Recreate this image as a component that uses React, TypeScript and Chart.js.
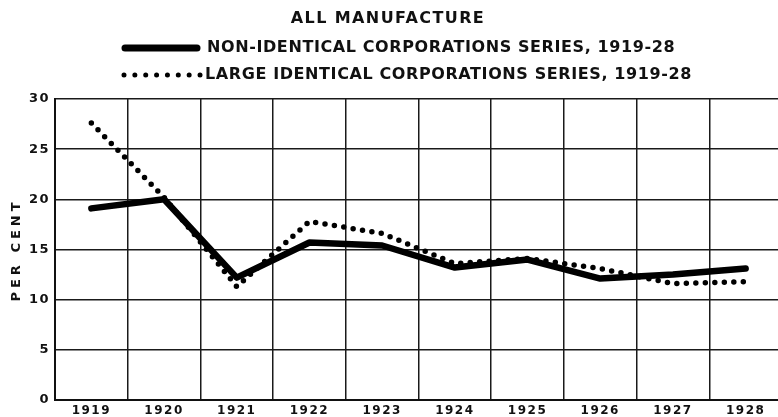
import { useEffect, useRef } from "react";
import { Chart, registerables } from "chart.js";

Chart.register(...registerables);

const TITLE = "ALL MANUFACTURE";
const Y_TITLE = "PER CENT";
const YEARS = ["1919", "1920", "1921", "1922", "1923", "1924", "1925", "1926", "1927", "1928"];
const SERIES_LABELS = [
  "NON-IDENTICAL CORPORATIONS SERIES, 1919-28",
  "LARGE IDENTICAL CORPORATIONS SERIES, 1919-28",
];
const NON_IDENTICAL = [19.1, 20.0, 12.2, 15.7, 15.4, 13.2, 14.0, 12.1, 12.5, 13.1];
const LARGE_IDENTICAL = [27.6, 20.2, 11.3, 17.8, 16.6, 13.6, 14.1, 13.1, 11.6, 11.8];
const Y_MIN = 0;
const Y_MAX = 30;
const Y_STEP = 5;

const FONT = "'DejaVu Sans', 'Liberation Sans', sans-serif";
const INK = "#111";

const headerPlugin = {
  id: "header",
  beforeDraw(chart: any) {
    chart.ctx.letterSpacing = "1.5px";
  },
  afterDraw(chart: any) {
    const ctx: CanvasRenderingContext2D = chart.ctx;
    ctx.save();
    ctx.fillStyle = INK;
    ctx.strokeStyle = INK;
    ctx.textBaseline = "middle";

    // title
    ctx.font = `bold 16px ${FONT}`;
    (ctx as any).letterSpacing = "1.4px";
    ctx.textAlign = "center";
    ctx.fillText(TITLE, 388, 19);

    // legend rows
    const ds = chart.data.datasets;
    ctx.textAlign = "left";
    (ctx as any).letterSpacing = "0.6px";

    // row 1: solid
    ctx.save();
    ctx.lineWidth = 7;
    ctx.lineCap = "round";
    ctx.setLineDash([]);
    ctx.strokeStyle = ds[0].borderColor;
    ctx.beginPath();
    ctx.moveTo(125, 48);
    ctx.lineTo(197, 48);
    ctx.stroke();
    ctx.restore();
    ctx.fillText(ds[0].label, 207, 48);

    // row 2: dotted
    ctx.save();
    ctx.lineWidth = 5;
    ctx.lineCap = "round";
    ctx.setLineDash([0, 10.86]);
    ctx.strokeStyle = ds[1].borderColor;
    ctx.beginPath();
    ctx.moveTo(124, 75);
    ctx.lineTo(201, 75);
    ctx.stroke();
    ctx.restore();
    ctx.fillText(ds[1].label, 205, 75);

    // y-axis title
    ctx.save();
    ctx.translate(17, 252);
    ctx.rotate(-Math.PI / 2);
    ctx.font = `bold 13px ${FONT}`;
    (ctx as any).letterSpacing = "4px";
    ctx.textAlign = "center";
    ctx.fillText(Y_TITLE, 2, 0);
    ctx.restore();

    ctx.restore();
  },
};

export default function App() {
  const canvasRef = useRef<HTMLCanvasElement | null>(null);

  useEffect(() => {
    if (!canvasRef.current) return;
    const chart = new Chart(canvasRef.current, {
      type: "line",
      data: {
        labels: YEARS,
        datasets: [
          {
            label: SERIES_LABELS[0],
            data: NON_IDENTICAL,
            borderColor: "#000",
            backgroundColor: "#000",
            borderWidth: 6.5,
            borderCapStyle: "round",
            borderJoinStyle: "round",
            pointRadius: 0,
            tension: 0,
          },
          {
            label: SERIES_LABELS[1],
            data: LARGE_IDENTICAL,
            borderColor: "#000",
            backgroundColor: "#000",
            borderWidth: 5.5,
            borderCapStyle: "round",
            borderJoinStyle: "round",
            borderDash: [0, 9.5],
            pointRadius: 0,
            tension: 0,
          },
        ],
      },
      options: {
        animation: false,
        responsive: true,
        maintainAspectRatio: false,
        layout: { padding: { top: 99, right: 8, left: 0, bottom: 0 } },
        plugins: {
          legend: { display: false },
          title: { display: false },
          tooltip: { enabled: false },
        },
        scales: {
          x: {
            type: "category",
            offset: true,
            grid: {
              offset: true,
              drawTicks: false,
              color: "#1a1a1a",
              lineWidth: 1.5,
            },
            border: { display: true, color: "#111", width: 2 },
            ticks: {
              color: INK,
              font: { family: FONT, size: 12, weight: "bold" },
              padding: 4,
              maxRotation: 0,
              autoSkip: false,
            },
            afterFit: (scale: any) => {
              scale.height = 17;
            },
          },
          y: {
            min: Y_MIN,
            max: Y_MAX,
            grid: {
              drawTicks: false,
              color: "#1a1a1a",
              lineWidth: 1.5,
            },
            border: { display: true, color: "#111", width: 2 },
            ticks: {
              stepSize: Y_STEP,
              color: INK,
              font: { family: FONT, size: 13, weight: "bold" },
              padding: 5,
            },
            afterFit: (scale: any) => {
              scale.width = 55;
            },
          },
        },
      },
      plugins: [headerPlugin],
    });
    return () => chart.destroy();
  }, []);

  return (
    <div
      style={{
        position: "fixed",
        left: 0,
        top: 0,
        width: 778,
        height: 417,
        overflow: "hidden",
        background: "#fff",
      }}
    >
      <div style={{ position: "relative", width: 790, height: 417 }}>
        <canvas ref={canvasRef} />
      </div>
    </div>
  );
}
